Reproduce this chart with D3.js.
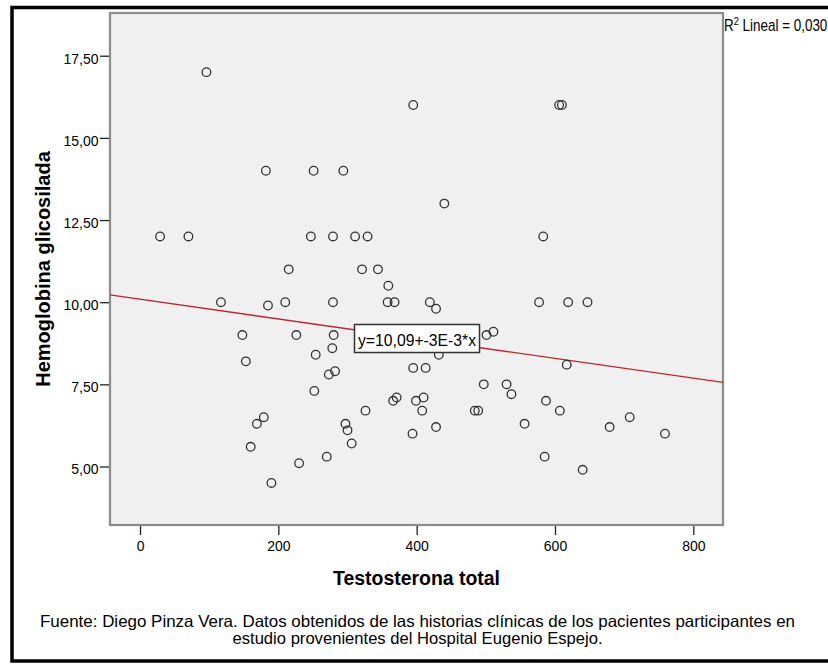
<!DOCTYPE html>
<html>
<head>
<meta charset="utf-8">
<script src="https://cdn.jsdelivr.net/npm/d3@7"></script>
<style>
  html, body { margin: 0; padding: 0; background: #fff; overflow: hidden; }
  svg { display: block; }
  text { font-family: "Liberation Sans", Arial, Helvetica, sans-serif; fill: #000; }
</style>
</head>
<body>
<svg id="chart" width="828" height="664"></svg>
<script>
// Testosterona total (x) vs Hemoglobina glicosilada (y), one entry per patient
const testosterona = [96,395,606,610,182,251,294,440,29,70,
  247,279,311,329,583,215,321,344,359,117,
  185,210,279,358,368,419,428,577,619,647,
  148,226,280,501,511,278,254,432,153,617,
  282,273,395,413,252,497,530,537,366,371,
  399,410,408,326,484,489,587,607,179,169,
  297,300,556,428,679,708,394,759,160,306,
  270,585,230,640,190];
const hemoglobina = [17,16,16,16,14,14,14,13,12,12,
  12,12,12,12,12,11,11,11,10.5,10,
  9.9,10,10,10,10,10,9.8,10,10,10,
  9,9,9,9,9.1,8.6,8.4,8.4,8.2,8.1,
  7.9,7.8,8,8,7.3,7.5,7.5,7.2,7,7.1,
  7,7.1,6.7,6.7,6.7,6.7,7,6.7,6.5,6.3,
  6.3,6.1,6.3,6.2,6.2,6.5,6,6,5.6,5.7,
  5.3,5.3,5.1,4.9,4.5];

// Axis ticks
const xTicks = [0, 200, 400, 600, 800];
const yTicks = [5, 7.5, 10, 12.5, 15, 17.5];

// Linear fit (SPSS output)
const fitIntercept = 10.09;
const fitSlope = -0.003;
const fitLabel = "y=10,09+-3E-3*x";
const r2Label = ["R", "2", " Lineal = 0,030"];

const xTitle = "Testosterona total";
const yTitle = "Hemoglobina glicosilada";
const caption = [
  "Fuente: Diego Pinza Vera. Datos obtenidos de las historias clínicas de los pacientes participantes en",
  "estudio provenientes del Hospital Eugenio Espejo."
];

const svg = d3.select("#chart");
const plot = { left: 110, top: 13, right: 723, bottom: 525 };

const x = d3.scaleLinear().domain([-43.4, 842.9]).range([plot.left, plot.right]);
const y = d3.scaleLinear().domain([3.22, 18.8]).range([plot.bottom, plot.top]);

const locale = d3.formatLocale({ decimal: ",", thousands: ".", grouping: [3], currency: ["", ""] });
const fmtY = locale.format(".2f");
const fmtX = locale.format("d");

// Outer frame
svg.append("rect")
  .attr("x", 12).attr("y", 7.5)
  .attr("width", 840).attr("height", 653.5)
  .attr("fill", "none").attr("stroke", "#000").attr("stroke-width", 3.5);

// Plot background
svg.append("rect")
  .attr("x", plot.left).attr("y", plot.top)
  .attr("width", plot.right - plot.left).attr("height", plot.bottom - plot.top)
  .attr("fill", "#f0f0f0").attr("stroke", "#8c8c8c").attr("stroke-width", 2.2);

// Y axis
const yAxis = svg.append("g")
  .attr("transform", `translate(${plot.left - 1},0)`)
  .call(d3.axisLeft(y).tickValues(yTicks).tickFormat(fmtY).tickSize(9).tickPadding(1.5));
yAxis.select(".domain").remove();
yAxis.selectAll(".tick line").attr("stroke", "#222").attr("stroke-width", 1.3);
yAxis.selectAll(".tick text")
  .attr("dy", null).attr("y", 7.3)
  .style("font-size", "14px").style("font-family", "\"Liberation Sans\", Arial, sans-serif")
  .attr("fill", "#111");

// X axis
const xAxis = svg.append("g")
  .attr("transform", `translate(0,${plot.bottom + 1})`)
  .call(d3.axisBottom(x).tickValues(xTicks).tickFormat(fmtX).tickSize(9).tickPadding(6));
xAxis.select(".domain").remove();
xAxis.selectAll(".tick line").attr("stroke", "#222").attr("stroke-width", 1.3);
xAxis.selectAll(".tick text")
  .attr("dy", null).attr("y", 25)
  .style("font-size", "14px").style("font-family", "\"Liberation Sans\", Arial, sans-serif")
  .attr("fill", "#111");

// Fit line across the x domain
const [x0, x1] = x.domain();
svg.append("line")
  .attr("x1", x(x0)).attr("y1", y(fitIntercept + fitSlope * x0))
  .attr("x2", x(x1)).attr("y2", y(fitIntercept + fitSlope * x1))
  .attr("stroke", "#c0262d").attr("stroke-width", 1.3);

// Points
svg.append("g").selectAll("circle")
  .data(testosterona.map((t, i) => [t, hemoglobina[i]]))
  .join("circle")
  .attr("cx", d => x(d[0]))
  .attr("cy", d => y(d[1]))
  .attr("r", 4.3)
  .attr("fill", "none")
  .attr("stroke", "#333")
  .attr("stroke-width", 1.3);

// Equation label
const eq = svg.append("g");
eq.append("rect")
  .attr("x", 354.5).attr("y", 324.5).attr("width", 125).attr("height", 28)
  .attr("fill", "#fff").attr("stroke", "#333").attr("stroke-width", 1.5);
eq.append("text")
  .attr("x", 358).attr("y", 345.5)
  .attr("textLength", 118).attr("lengthAdjust", "spacingAndGlyphs")
  .style("font-size", "16px")
  .text(fitLabel);

// R² annotation, squeezed to fit beside the plot
const r2 = svg.append("g").attr("transform", "translate(724,31) scale(0.84,1)");
const r2t = r2.append("text").style("font-size", "16px");
r2t.append("tspan").text(r2Label[0]);
r2t.append("tspan").attr("dy", -6).style("font-size", "11px").text(r2Label[1]);
r2t.append("tspan").attr("dy", 6).text(r2Label[2]);

// Axis titles
svg.append("text")
  .attr("x", 416.5).attr("y", 585)
  .attr("text-anchor", "middle")
  .attr("textLength", 167).attr("lengthAdjust", "spacingAndGlyphs")
  .style("font-size", "20px").style("font-weight", "bold")
  .text(xTitle);

svg.append("text")
  .attr("transform", "translate(50,269) rotate(-90)")
  .attr("text-anchor", "middle")
  .style("font-size", "20px").style("font-weight", "bold")
  .text(yTitle);

// Source caption
const capWidths = [755, 370];
caption.forEach((line, i) => {
  svg.append("text")
    .attr("x", 417.5).attr("y", 627 + i * 17)
    .attr("text-anchor", "middle")
    .attr("textLength", capWidths[i]).attr("lengthAdjust", "spacingAndGlyphs")
    .style("font-size", "16.5px")
    .text(line);
});
</script>
</body>
</html>
